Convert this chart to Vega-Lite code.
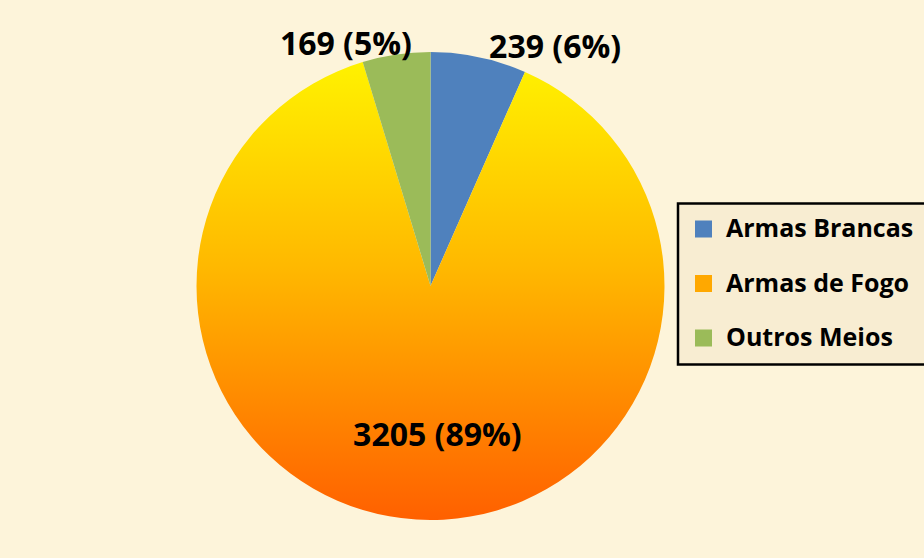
{
  "$schema": "https://vega.github.io/schema/vega-lite/v6.json",
  "width": 861,
  "height": 544,
  "autosize": {"type": "none"},
  "padding": {"left": 0, "top": 14, "right": 63, "bottom": 0},
  "background": "#fdf4da",
  "config": {"view": {"stroke": null}, "legend": {"strokeWidth": 2.5}},
  "data": {
    "values": [
      {"cat": "Armas Brancas", "value": 239, "label": "239 (6%)"},
      {"cat": "Armas de Fogo", "value": 3205, "label": "3205 (89%)"},
      {"cat": "Outros Meios", "value": 169, "label": "169 (5%)"}
    ]
  },
  "encoding": {
    "theta": {"field": "value", "type": "quantitative", "stack": true},
    "order": {"field": "cat", "type": "nominal"}
  },
  "layer": [
    {
      "mark": {"type": "arc", "outerRadius": 234, "stroke": null},
      "encoding": {
        "color": {
          "condition": {
            "test": "datum.cat === 'Armas de Fogo'",
            "value": {"gradient": "linear", "x1": 0, "y1": 0, "x2": 0, "y2": 1,
              "stops": [
                {"offset": 0, "color": "#fff200"},
                {"offset": 0.45, "color": "#ffb800"},
                {"offset": 1, "color": "#ff6000"}
              ]}
          },
          "field": "cat",
          "type": "nominal",
          "scale": {"domain": ["Armas Brancas", "Armas de Fogo", "Outros Meios"], "range": ["#4f81bd", "#ffa800", "#9bbb59"]},
          "legend": {
            "title": null,
            "orient": "none",
            "legendX": 678,
            "legendY": 189.5,
            "padding": 13,
            "strokeColor": "#000000",
            "fillColor": "#f8edd2",
            "symbolType": "square",
            "symbolSize": 289,
            "symbolStrokeWidth": 0,
            "labelFont": "Open Sans",
            "labelFontSize": 25,
            "labelFontWeight": "bold",
            "labelColor": "#000000",
            "labelOffset": 10,
            "rowPadding": 28.5,
            "labelLimit": 400
          }
        }
      }
    },
    {
      "mark": {"type": "text", "radius": 250, "font": "Open Sans", "fontSize": 32, "fontWeight": "bold", "color": "#000000", "align": "center", "baseline": "middle", "dx": 73, "dy": 7},
      "encoding": {
        "text": {"condition": {"test": "datum.cat === 'Armas Brancas'", "field": "label"}, "value": ""}
      }
    },
    {
      "mark": {"type": "text", "radius": 250, "font": "Open Sans", "fontSize": 32, "fontWeight": "bold", "color": "#000000", "align": "center", "baseline": "middle", "dx": -48, "dy": 6},
      "encoding": {
        "text": {"condition": {"test": "datum.cat === 'Outros Meios'", "field": "label"}, "value": ""}
      }
    },
    {
      "mark": {"type": "text", "radius": 150, "font": "Open Sans", "fontSize": 32, "fontWeight": "bold", "color": "#000000", "align": "center", "baseline": "middle", "dx": 16, "dy": 0},
      "encoding": {
        "text": {"condition": {"test": "datum.cat === 'Armas de Fogo'", "field": "label"}, "value": ""}
      }
    }
  ]
}
